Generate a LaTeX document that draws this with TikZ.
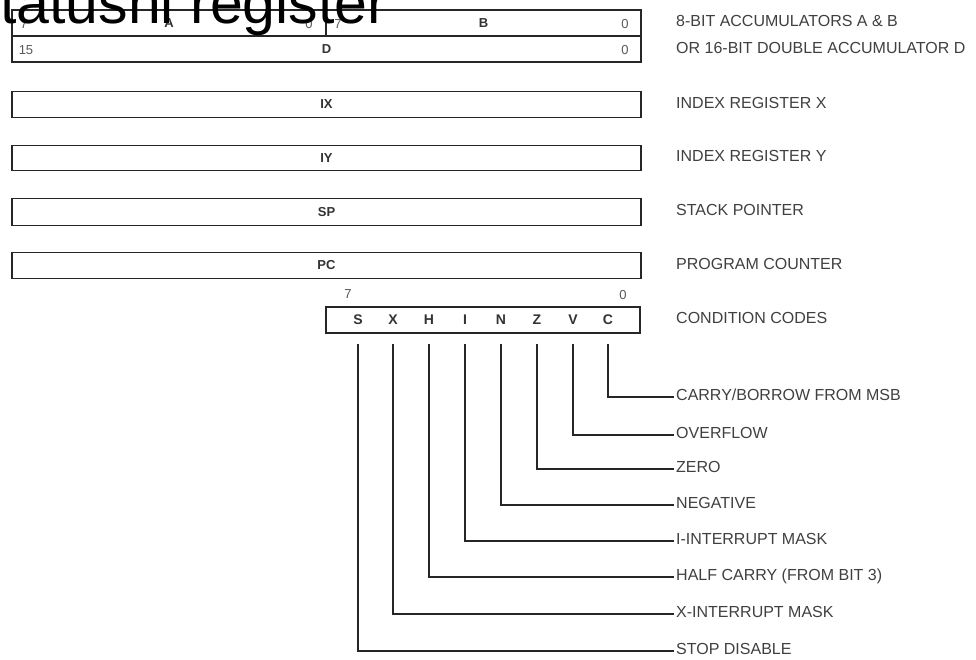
\documentclass[tikz,border=0pt]{standalone}
\usepackage{fontspec}
\setmainfont{Liberation Sans}
\begin{document}
\begin{tikzpicture}[x=1pt,y=-1pt,
  reg/.style={draw=black!85, line width=1.8pt, inner sep=0pt, font=\bfseries\fontsize{13}{13}\selectfont, text=black!80},
  num/.style={inner sep=0pt, font=\fontsize{13}{13}\selectfont, text=black!65},
  lab/.style={anchor=west, inner ysep=0pt, inner xsep=2pt, font=\fontsize{16}{16}\selectfont, text=black!75, text height=0.72em, text depth=0pt},
  bit/.style={inner sep=0pt, font=\bfseries\fontsize{14}{14}\selectfont, text=black!80},
  wire/.style={draw=black!85, line width=1.7pt}]
\clip (0,0) rectangle (976,659);
\fill[white] (0,0) rectangle (976,659);
% accumulators
\node[reg, minimum width=314, minimum height=26] (a) at (169,23) {A};
\node[reg, minimum width=315, minimum height=26] (b) at (483.5,23) {B};
\node[reg, minimum width=629, minimum height=26] (d) at (326.5,49) {D};
\node[num] (a7) at (24,24) {7};
\node[num] (a0) at (309,24) {0};
\node[num] (b7) at (338,24) {7};
\node[num] (b0) at (625,24) {0};
\node[num] (d15) at (26,50) {15};
\node[num] (d0) at (625,50) {0};
% registers
\node[reg, minimum width=629, minimum height=26] (ix) at (326.5,104.5) {IX};
\node[reg, minimum width=629, minimum height=25] (iy) at (326.5,158) {IY};
\node[reg, minimum width=629, minimum height=27] (sp) at (326.5,212) {SP};
\node[reg, minimum width=629, minimum height=26] (pc) at (326.5,265.5) {PC};
% condition code register
\node[reg, minimum width=314, minimum height=26] (ccr) at (483,320) {};
\node[num] (c7) at (348,294) {7};
\node[num] (c0) at (623,295) {0};
\node[bit] (sS) at (358,320) {S};
\node[bit] (sX) at (393,320) {X};
\node[bit] (sH) at (429,320) {H};
\node[bit] (sI) at (465,320) {I};
\node[bit] (sN) at (501,320) {N};
\node[bit] (sZ) at (537,320) {Z};
\node[bit] (sV) at (573,320) {V};
\node[bit] (sC) at (608,320) {C};
% right labels
\node[lab] (l1) at (674,23) {8-BIT ACCUMULATORS A \& B};
\node[lab] (l2) at (674,50) {OR 16-BIT DOUBLE ACCUMULATOR D};
\node[lab] (l3) at (674,104.5) {INDEX REGISTER X};
\node[lab] (l4) at (674,158) {INDEX REGISTER Y};
\node[lab] (l5) at (674,212) {STACK POINTER};
\node[lab] (l6) at (674,266) {PROGRAM COUNTER};
\node[lab] (l7) at (674,320) {CONDITION CODES};
% bit labels
\node[lab] (lC) at (674,397) {CARRY/BORROW FROM MSB};
\node[lab] (lV) at (674,435) {OVERFLOW};
\node[lab] (lZ) at (674,469) {ZERO};
\node[lab] (lN) at (674,505) {NEGATIVE};
\node[lab] (lI) at (674,541) {I-INTERRUPT MASK};
\node[lab] (lH) at (674,577) {HALF CARRY (FROM BIT 3)};
\node[lab] (lX) at (674,614) {X-INTERRUPT MASK};
\node[lab] (lS) at (674,651) {STOP DISABLE};
% connectors
\foreach \b in {C,V,Z,N,I,H,X,S}{
  \draw[wire] (s\b |- 0,344) |- (l\b.west);
}
% title
\node[anchor=base west, inner sep=0pt, font=\fontsize{59}{59}\selectfont] (title) at (0,23) {tatushi register};
\end{tikzpicture}
\end{document}
